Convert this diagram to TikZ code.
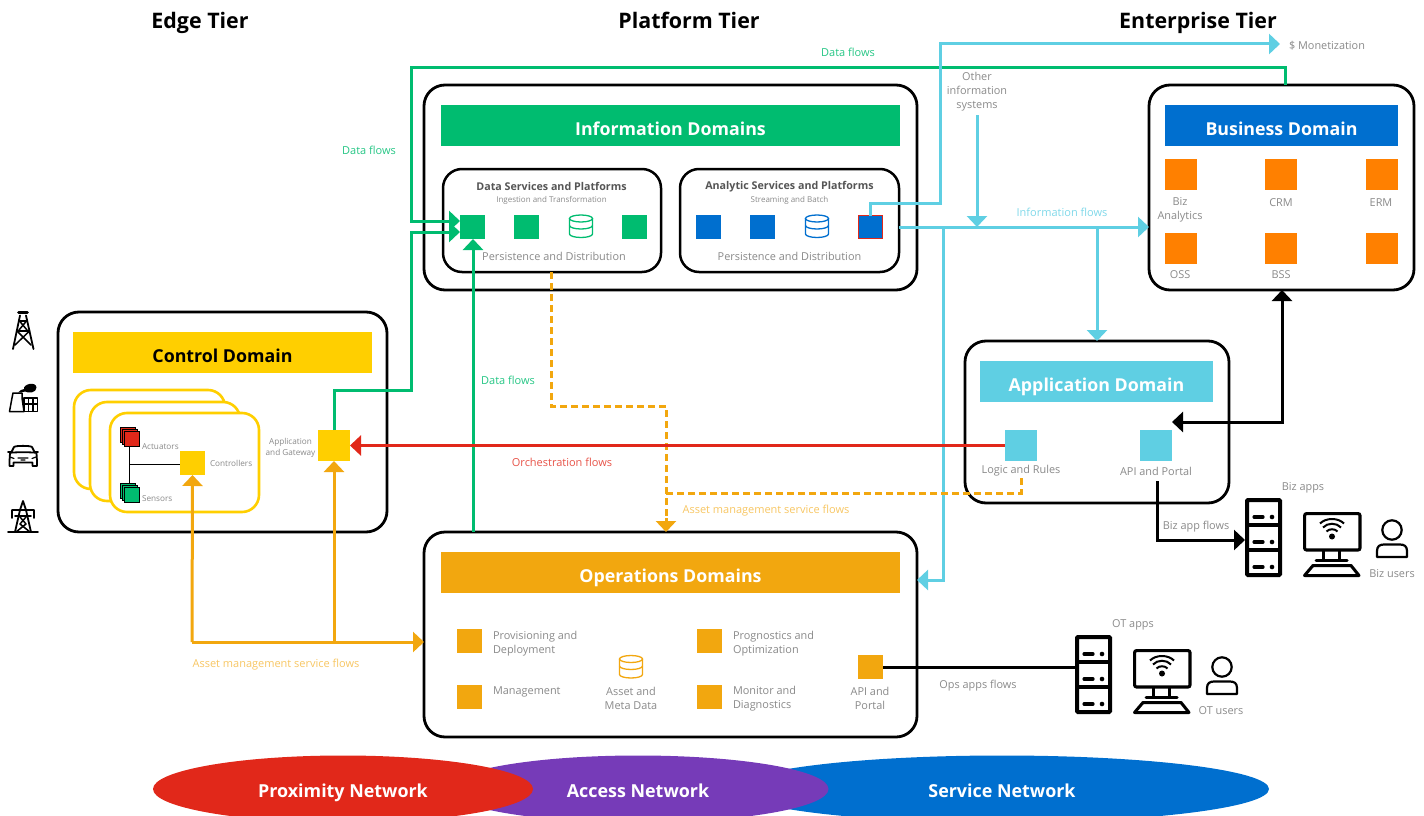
\documentclass[tikz,border=0pt]{standalone}
\usepackage{fontspec}
\setmainfont{Open Sans}
\usetikzlibrary{arrows.meta,calc}
\definecolor{cgreen}{HTML}{00BC70}
\definecolor{cblue}{HTML}{006FCF}
\definecolor{ccyan}{HTML}{5FCFE3}
\definecolor{cyellow}{HTML}{FFCF00}
\definecolor{camber}{HTML}{F2A70F}
\definecolor{corange}{HTML}{FF8000}
\definecolor{cred}{HTML}{E1281A}
\definecolor{cpurple}{HTML}{763BB8}
\definecolor{cgray}{HTML}{8A8A8A}
\definecolor{cdark}{HTML}{555555}
\newcommand{\fs}[1]{\fontsize{#1}{#1}\selectfont}
\newcommand{\rbox}[6]{\node[#6,minimum width={(#4-#2)*1pt},minimum height={(#5-#3)*1pt}] (#1) at ({(#2+#4)/2},{(#3+#5)/2}) {};}
\newcommand{\bannerbox}[8]{\rbox{#1}{#2}{#3}{#4}{#5}{#6}\node[banner,text=#7,anchor=base] (#1t) at ($(#1.center)+(0,9.5)$) {#8};}
\tikzset{
  x=1pt,y=-1pt,
  every node/.style={inner sep=0pt,outer sep=0pt},
  domainbox/.style={draw=black,line width=2.8pt,rounded corners=21pt,fill=white},
  subbox/.style={draw=black,line width=2.5pt,rounded corners=19pt,fill=white},
  banner/.style={font=\fs{17.8}\bfseries},
  tier/.style={font=\fs{21.4}\bfseries,text=black,anchor=base},
  lbl/.style={font=\fs{10.9},text=cgray,align=center},
  sml/.style={font=\fs{8.2},text=cgray,align=center},
  flowlbl/.style={font=\fs{11},align=center},
  arr/.style={-{Triangle[length=11pt,width=20pt]}},
  flowg/.style={draw=cgreen,line width=3pt},
  flowc/.style={draw=ccyan,line width=3pt},
  flowa/.style={draw=camber,line width=3pt},
  flowr/.style={draw=cred,line width=3pt},
  flowk/.style={draw=black,line width=3pt},
  flowd/.style={draw=camber,line width=3pt,dash pattern=on 7pt off 4pt},
  stackbox/.style={draw=cyellow,line width=2.6pt,rounded corners=17pt,fill=white},
  icon/.style={draw=black,line width=1.8pt,line join=round,line cap=round,fill=none},
  netw/.style={font=\fs{17.9}\bfseries,text=white,anchor=base},
  pics/dbase/.style={code={
    \begin{scope}[draw=#1,line width=1.3pt]
      \draw (-11.5,-8) -- (-11.5,7.5) arc[start angle=180,end angle=0,x radius=11.5,y radius=3.5] -- (11.5,-8);
      \draw (0,-8) ellipse[x radius=11.5,y radius=3.5];
      \draw (-11.5,-1) arc[start angle=180,end angle=0,x radius=11.5,y radius=3.5];
    \end{scope}}},
  pics/server/.style={code={
    \draw[line width=4pt,rounded corners=1pt] (2,2) rectangle (35,77);
    \draw[line width=3.6pt] (2,27) -- (35,27) (2,52) -- (35,52);
    \foreach \yy in {19,44,69}{
      \draw[line width=3.2pt,line cap=round] (9,\yy) -- (18,\yy);
      \fill (27,\yy) circle[radius=2.3];
    }}},
  pics/screen/.style={code={
    \draw[line width=3.1pt,rounded corners=2pt] (1.6,1.6) rectangle (57,38);
    \draw[line width=3pt] (20,38) -- (20,47) (36,38) -- (36,47);
    \draw[line width=3pt,line cap=round] (13,48) -- (44,48);
    \draw[line width=3pt,line join=round] (10,53.5) -- (48,53.5) -- (56,63.5) -- (1.5,63.5) -- cycle;
    \fill (29,24.5) circle[radius=3];
    \draw[line width=2pt] (23.5,19.5) .. controls (26,16.5) and (32,16.5) .. (34.5,19.5);
    \draw[line width=2pt] (20,15.5) .. controls (24.5,10.5) and (33.5,10.5) .. (38,15.5);
    \draw[line width=2pt] (17,11.5) .. controls (23,5.5) and (35,5.5) .. (41,11.5);}},
  pics/person/.style={code={
    \draw[line width=2.2pt] (16,10) circle[radius=9.7];
    \draw[line width=2.2pt,line join=round] (1,37) -- (1,31) .. controls (1,26) and (4,24.5) .. (8,24.5) -- (24,24.5) .. controls (28,24.5) and (31,26) .. (31,31) -- (31,37) -- cycle;}},
}
\begin{document}
\begin{tikzpicture}
\useasboundingbox (0,0) rectangle (1424,816);
% tiers
\node[tier] (t1) at (200,28.5) {Edge Tier};
\node[tier] (t2) at (689,28.5) {Platform Tier};
\node[tier] (t3) at (1198,28.5) {Enterprise Tier};

% networks
\begin{scope}
\clip (0,0) rectangle (1424,816);
\fill[cblue] (1002,789) ellipse[x radius=267,y radius=33.5];
\fill[cpurple] (638,789) ellipse[x radius=190.5,y radius=33.5];
\fill[cred] (343,789) ellipse[x radius=190,y radius=33.5];
\end{scope}
\node[netw] (n1) at (343,797.5) {Proximity Network};
\node[netw] (n2) at (638,797.5) {Access Network};
\node[netw] (n3) at (1002,797.5) {Service Network};

% domains
\rbox{info}{424}{85}{917}{290}{domainbox}
\rbox{biz}{1149}{85}{1414}{290}{domainbox}
\rbox{app}{965}{341}{1229}{503}{domainbox}
\rbox{ctrl}{58}{312}{387}{532}{domainbox}
\rbox{ops}{424}{532}{917}{737}{domainbox}
\bannerbox{infob}{441}{105}{900}{146}{fill=cgreen}{white}{Information Domains}
\bannerbox{bizb}{1165}{105}{1398}{146}{fill=cblue}{white}{Business Domain}
\bannerbox{appb}{980}{361}{1213}{402}{fill=ccyan}{white}{Application Domain}
\bannerbox{ctrlb}{73}{332}{372}{373}{fill=cyellow}{black}{Control Domain}
\bannerbox{opsb}{441}{552}{900}{593}{fill=camber}{white}{Operations Domains}

% sub boxes
\rbox{data}{443}{169}{661}{272}{subbox}
\rbox{anal}{680}{169}{899}{272}{subbox}
\node[font=\fs{10.7}\bfseries,text=cdark] (d1) at (551.5,186.5) {Data Services and Platforms};
\node[sml,font=\fs{8}] (d2) at (551.5,200.5) {Ingestion and Transformation};
\node[lbl] (d3) at (554,256.5) {Persistence and Distribution};
\node[font=\fs{10.7}\bfseries,text=cdark] (a1) at (789.5,186.5) {Analytic Services and Platforms};
\node[sml,font=\fs{8}] (a2) at (789.5,200.5) {Streaming and Batch};
\node[lbl] (a3) at (789.5,256.5) {Persistence and Distribution};
\rbox{g1}{460}{215}{485}{239}{fill=cgreen}
\rbox{g2}{514}{215}{539}{239}{fill=cgreen}
\pic at (581,226.5) {dbase=cgreen};
\rbox{g4}{622}{215}{647}{239}{fill=cgreen}
\rbox{b1}{696}{215}{721}{239}{fill=cblue}
\rbox{b2}{750}{215}{775}{239}{fill=cblue}
\pic at (817,226.5) {dbase=cblue};
\rbox{b4}{858.5}{215.5}{882.5}{238.5}{fill=cblue,draw=cred,line width=1.4pt}

% business
\rbox{o1}{1165}{159}{1197}{190}{fill=corange}
\rbox{o2}{1265}{159}{1297}{190}{fill=corange}
\rbox{o3}{1366}{159}{1398}{190}{fill=corange}
\rbox{o4}{1165}{233}{1197}{264}{fill=corange}
\rbox{o5}{1265}{233}{1297}{264}{fill=corange}
\rbox{o6}{1366}{233}{1398}{264}{fill=corange}
\node[lbl] (ol1) at (1180,209.5) {Biz\\[3pt]Analytics};
\node[lbl] (ol2) at (1281,203) {CRM};
\node[lbl] (ol3) at (1381,203) {ERM};
\node[lbl] (ol4) at (1180,275) {OSS};
\node[lbl] (ol5) at (1281,275) {BSS};

% application
\rbox{logic}{1005}{430}{1037}{461}{fill=ccyan}
\rbox{api}{1140}{430}{1172}{461}{fill=ccyan}
\node[lbl] (ll) at (1021,471) {Logic and Rules};
\node[lbl] (al) at (1156,471) {API and Portal};

% control internals
\rbox{s1}{74}{390}{225}{489}{stackbox}
\rbox{s2}{90}{402}{240}{501}{stackbox}
\rbox{s3}{110}{413}{259}{512}{stackbox}
\coordinate (vj) at (129.5,464);
\rbox{ctrlr}{180}{451}{205}{475}{fill=cyellow}
\rbox{ac3}{120.5}{427}{135.5}{442}{fill=cred,draw=black,line width=.7pt}
\rbox{ac2}{122.5}{429}{137.5}{444}{fill=cred,draw=black,line width=.7pt}
\rbox{ac1}{124.5}{431}{139.5}{446}{fill=cred,draw=black,line width=.7pt}
\rbox{se3}{120.5}{483}{135.5}{498}{fill=cgreen,draw=black,line width=.7pt}
\rbox{se2}{122.5}{485}{137.5}{500}{fill=cgreen,draw=black,line width=.7pt}
\rbox{se1}{124.5}{487}{139.5}{502}{fill=cgreen,draw=black,line width=.7pt}
\draw[line width=1pt,black] (vj |- ac3.south) ++(0,4) -- (vj |- se3.north);
\draw[line width=1pt,black] (vj) -- (vj -| ctrlr.west);
\node[sml,anchor=west] (act) at (142,446.5) {Actuators};
\node[sml,anchor=west] (sen) at (142,498.5) {Sensors};
\node[sml,anchor=west] (con) at (210,463.5) {Controllers};
\rbox{gw}{318}{430}{350}{461}{fill=cyellow}
\node[sml,align=center] (gwl) at (290.5,447.5) {Application\\[3pt]and Gateway};

% operations internals
\rbox{p1}{457}{629}{482}{653}{fill=camber}
\rbox{p2}{457}{685}{482}{709}{fill=camber}
\rbox{p3}{697}{629}{722}{653}{fill=camber}
\rbox{p4}{697}{685}{722}{709}{fill=camber}
\rbox{p5}{858}{655}{883}{679}{fill=camber}
\pic at (631,667) {dbase=camber};
\node[lbl,anchor=west,align=left] (pl1) at (493,643.5) {Provisioning and\\[3pt]Deployment};
\node[lbl,anchor=west,align=left] (pl2) at (493,691.5) {Management};
\node[lbl,anchor=west,align=left] (pl3) at (733,643.5) {Prognostics and\\[3pt]Optimization};
\node[lbl,anchor=west,align=left] (pl4) at (733,698.5) {Monitor and\\[3pt]Diagnostics};
\node[lbl] (pl5) at (631,698.5) {Asset and\\[3pt]Meta Data};
\node[lbl] (pl6) at (870,698.5) {API and\\[3pt]Portal};

% servers etc
\pic (srv1) at (1245,498) {server};
\pic (srv2) at (1075,635) {server};
\pic (scr1) at (1303,512) {screen};
\pic (scr2) at (1133,649) {screen};
\pic (per1) at (1376,520) {person};
\pic (per2) at (1206,657) {person};
\coordinate (srv1w) at (1245,540);
\coordinate (srv2w) at (1075,667);
\node[lbl] (bza) at (1303,488) {Biz apps};
\node[lbl] (bzu) at (1392,573.5) {Biz users};
\node[lbl] (ota) at (1133,624.5) {OT apps};
\node[lbl] (otu) at (1221,710.5) {OT users};

% icons
\begin{scope}[icon]
 % derrick
 \draw (20,315.5) -- (13,349) (26,315.5) -- (33.5,349);
 \draw[line width=2.6pt] (18.5,312.5) -- (27.5,312.5);
 \draw[line width=2pt] (19,321) -- (27,321) (17.5,330.5) -- (29,330.5);
 \draw[line width=1.5pt] (19.5,321) -- (27,330) (26.5,321) -- (19,330);
 \draw[line width=1.5pt] (17,331) -- (31,345) (29.5,331) -- (15,345);
 % plant
 \draw[line width=1.5pt] (13,393) -- (12,398) -- (9.5,411.5) -- (24,411.5) -- (22,398) -- (22,393) -- cycle;
 \fill[black] (18,392.5) .. controls (20,390) and (22,389.5) .. (24,389) .. controls (23,384) and (36,381) .. (36.5,387.5) .. controls (36.5,393) and (28,393.5) .. (25,391.5) .. controls (23,392) and (20,393) .. (18,392.5) -- cycle;
 \draw[line width=1.2pt] (24,398) rectangle (37.5,411.5);
 \draw[line width=1.2pt] (24,404) -- (37.5,404) (28.5,398) -- (28.5,411.5) (33,398) -- (33,411.5);
 % car
 \draw (11.5,452) -- (14,447) .. controls (15,445.5) and (31,445.5) .. (32,447) -- (34.5,452);
 \draw (10,453) .. controls (10,452) and (36,452) .. (36.5,453) -- (37,461) -- (37,466) -- (32.5,466) -- (32.5,462.5) -- (13.5,462.5) -- (13.5,466) -- (9.5,466) -- (9.5,461) -- cycle;
 \draw (8,452) -- (11.5,452) (34.5,452) -- (38,452);
 \draw[line width=1.2pt] (10,457) -- (14,458.5) (36,457) -- (32,458.5) (18,458) -- (28,458) (21,460) -- (25,460);
 % pylon
 \draw (8,532) -- (38,532);
 \draw (20,510) -- (15,532) (26,510) -- (31,532) (23,501) -- (20,510) (23,501) -- (26,510);
 \draw (12,510) -- (34,510) (12,510) -- (12,518) (34,510) -- (34,518) (15,516) -- (31,516);
 \draw[line width=1.5pt] (20,517) -- (26,524) -- (16,532) (26,517) -- (20,524) -- (30,532);
\end{scope}

% connectors
\coordinate (g1up) at (334,390);
\coordinate (g1mid) at (411,232);
\coordinate (g1end) at (g1.west |- g1mid);
\draw[flowg,arr] (gw.north -| g1up) -- (g1up) -| (g1mid) -- (g1end);
\coordinate (g2up) at (1285,68);
\coordinate (g2mid) at (411,221);
\coordinate (g2end) at (g1.west |- g2mid);
\draw[flowg,arr] (biz.north -| g2up) -- (g2up) -| (g2mid) -- (g2end);
\coordinate (g3b) at (473,532);
\draw[flowg,arr] (g3b) -- (g3b |- g1.south);

\coordinate (c0) at (1280,44);
\coordinate (c1) at (870,203);
\coordinate (c2) at (940,203);
\draw[flowc,arr] (b4.north -| c1) -- (c1) -- (c2) |- (c0);
\coordinate (c3) at (899,227);
\draw[flowc,arr] (c3) -- (c3 -| biz.west);
\coordinate (c4) at (977,115);
\draw[flowc,arr] (c4) -- (c4 |- c3);
\coordinate (c5) at (1097,227);
\draw[flowc,arr] (c5) -- (c5 |- app.north);
\coordinate (c6) at (943,227);
\coordinate (c7) at (943,580);
\draw[flowc,arr] (c6) -- (c7) -- (c7 -| ops.east);

\coordinate (d1a) at (551,272);
\coordinate (d1b) at (551,406);
\coordinate (d1c) at (666,406);
\coordinate (d1d) at (666,518);
\draw[flowd] (d1a) -- (d1b) -- (d1c) -- (d1d);
\draw[flowa,arr] (d1d) -- (d1c |- ops.north);
\coordinate (d2a) at (1021,478);
\coordinate (d2b) at (1021,493);
\coordinate (d2c) at (666,493);
\draw[flowd] (d2a) -- (d2b) -- (d2c);

\draw[flowr,arr] (logic.west) -- (gw.east);

\coordinate (k1) at (1282,422);
\draw[flowk,{Triangle[length=11pt,width=20pt]}-{Triangle[length=11pt,width=20pt]}] (biz.south -| k1) -- (k1) -- (api.east |- k1);
\coordinate (k2a) at (1157,481);
\coordinate (k2b) at (1157,540);
\draw[flowk,arr] (k2a) -- (k2b) -- (srv1w);
\draw[flowk] (p5.east) -- (srv2w);

\coordinate (a0) at (192,642);
\coordinate (a1m) at (334,642);
\draw[flowa,arr] (a0) -- (ctrlr.south);
\draw[flowa,arr] (a1m) -- (gw.south);
\draw[flowa,arr] (a0) -- (ops.west |- a0);

% flow labels
\node[flowlbl,text=cgreen!85!white] (fl1) at (848,52.5) {Data flows};
\node[flowlbl,text=cgreen!85!white] (fl2) at (369,150.5) {Data flows};
\node[flowlbl,text=cgreen!85!white] (fl3) at (508,380.5) {Data flows};
\node[lbl] (fl4) at (1327,45.5) {\$ Monetization};
\node[lbl,align=center] (fl5) at (977,91.5) {Other\\[3pt]information\\[3pt]systems};
\node[flowlbl,text=ccyan!80!white] (fl6) at (1062,212.5) {Information flows};
\node[flowlbl,text=cred!80!white] (fl7) at (562,462.5) {Orchestration flows};
\node[flowlbl,text=camber!65!white] (fl8) at (766,510.5) {Asset management service flows};
\node[flowlbl,text=camber!65!white] (fl9) at (276,664.5) {Asset management service flows};
\node[lbl] (fl10) at (1196,526.5) {Biz app flows};
\node[lbl] (fl11) at (978,685.5) {Ops apps flows};
\end{tikzpicture}
\end{document}
